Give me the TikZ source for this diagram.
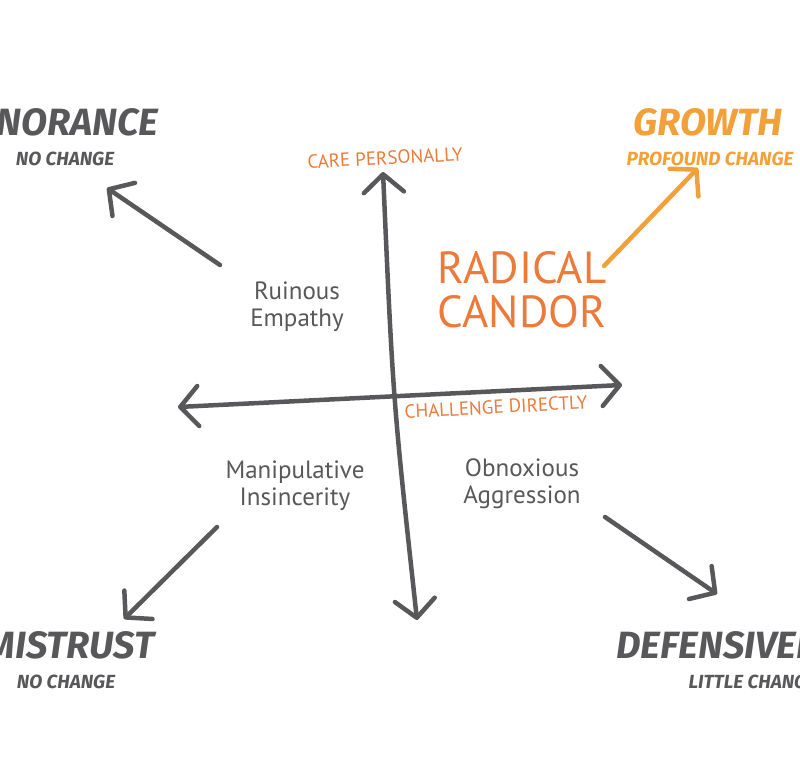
\documentclass[tikz,border=0pt]{standalone}
\usepackage{fontspec}
\setmainfont{PT Sans}
\newfontfamily\brushfont{Fira Sans}
\usepackage{xcolor}
\usepackage{tikz}
\usetikzlibrary{arrows.meta}
\definecolor{ink}{HTML}{58585A}
\definecolor{candor}{HTML}{EA7B3A}
\definecolor{amber}{HTML}{F2A03A}

\tikzset{
  barb/.tip={Straight Barb[length=18pt,width=40pt,round]},
  pen/.style={line width=4.5pt,line cap=round,ink,-barb},
  axisline/.style={line width=4.5pt,line cap=round,ink,barb-barb},
  outcome/.style={font=\brushfont\bfseries\itshape\fontsize{38}{38}\selectfont,ink},
  change/.style={font=\brushfont\bfseries\itshape\fontsize{19}{19}\selectfont,ink},
  quadrant/.style={font=\fontsize{25}{27}\selectfont,ink,align=center},
  axislabel/.style={font=\fontsize{19}{19}\selectfont,candor},
}

\begin{document}
\begin{tikzpicture}[x=1pt,y=-1pt]
\useasboundingbox (0,0) rectangle (800,768);
\clip (0,0) rectangle (800,768);

% axes
\coordinate (careTop) at (383,172);
\coordinate (careBottom) at (417,620);
\coordinate (challengeLeft) at (178,407);
\coordinate (challengeRight) at (622,385);
\draw[axisline] (careBottom) .. controls (393,400) .. (careTop);
\draw[axisline] (challengeLeft) -- (challengeRight);
\node[axislabel,rotate=3] (care) at (385,158) {CARE PERSONALLY};
\node[axislabel,rotate=3] (challenge) at (496,407) {CHALLENGE DIRECTLY};

% quadrants
\node[quadrant] (ruinous) at (297,307) {Ruinous\\Empathy};
\node[quadrant] (manipulative) at (295,486) {Manipulative\\Insincerity};
\node[quadrant] (obnoxious) at (522,484) {Obnoxious\\Aggression};
\node[quadrant,candor,font=\fontsize{45}{44}\selectfont] (radical) at (522,290) {RADICAL\\CANDOR};

% outcomes
\node[outcome,anchor=base east] (ignorance) at (162,135) {IGNORANCE};
\node[change,anchor=base] (ignoranceSub) at (65,165) {NO CHANGE};
\node[outcome,amber,anchor=base] (growth) at (708,135) {GROWTH};
\node[change,amber,anchor=base] (growthSub) at (710,165) {PROFOUND CHANGE};
\node[outcome,anchor=base east] (mistrust) at (158,658) {MISTRUST};
\node[change,anchor=base] (mistrustSub) at (66,688) {NO CHANGE};
\node[outcome,anchor=base west] (defensiveness) at (613,658) {DEFENSIVENESS};
\node[change,anchor=base west] (defensivenessSub) at (685,688) {LITTLE CHANGE};

% arrows to outcomes
\coordinate (toIgnorance) at (107,188);
\coordinate (fromRuinous) at (220,265);
\coordinate (toGrowth) at (698,168);
\coordinate (fromRadical) at (604,266);
\coordinate (toMistrust) at (124,619);
\coordinate (fromManipulative) at (217,527);
\coordinate (toDefensiveness) at (717,594);
\coordinate (fromObnoxious) at (605,517);
\draw[pen] (fromRuinous) -- (toIgnorance);
\draw[pen,amber] (fromRadical) -- (toGrowth);
\draw[pen] (fromManipulative) -- (toMistrust);
\draw[pen] (fromObnoxious) -- (toDefensiveness);
\end{tikzpicture}
\end{document}
